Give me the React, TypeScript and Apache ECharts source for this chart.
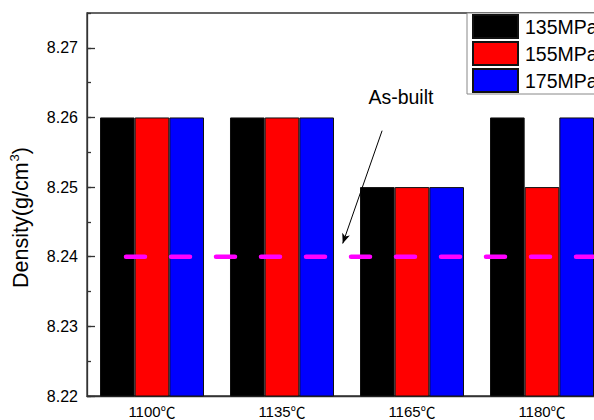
import React, { useEffect, useRef } from "react";
import * as echarts from "echarts";

const categories = ["1100℃", "1135℃", "1165℃", "1180℃"];
const seriesNames = ["135MPa", "155MPa", "175MPa"];
const values135 = [8.26, 8.26, 8.25, 8.26];
const values155 = [8.26, 8.26, 8.25, 8.25];
const values175 = [8.26, 8.26, 8.25, 8.26];
const asBuiltDensity = 8.24;
const yMin = 8.22;
const yMax = 8.275;

export default function App() {
  const ref = useRef<HTMLDivElement>(null);
  useEffect(() => {
    if (!ref.current) return;
    const chart = echarts.init(ref.current, null, { renderer: "svg" });
    const font = "Arial, 'Liberation Sans', sans-serif";
    const cjk = "'Noto Sans CJK SC', sans-serif";
    const colors = ["#000000", "#ff0000", "#0000ff"];
    const barData = [values135, values155, values175];
    const bars = seriesNames.map((name, i) => ({
      name,
      type: "bar",
      xAxisIndex: 0,
      yAxisIndex: 0,
      data: barData[i],
      barGap: "0%",
      barCategoryGap: "20%",
      itemStyle: { color: colors[i], borderColor: "#111", borderWidth: 1 },
      z: 2,
    }));
    chart.setOption({
      animation: false,
      backgroundColor: "#ffffff",
      grid: {
        left: 87,
        top: 13,
        bottom: 24,
        width: 520,
        outerBoundsMode: "none",
        containLabel: false,
        show: true,
        borderColor: "#333",
        borderWidth: 1.3,
        backgroundColor: "transparent",
      },
      legend: {
        orient: "vertical",
        left: 467,
        top: 13,
        padding: [1, 6, 1, 5],
        itemGap: 2,
        itemWidth: 45,
        itemHeight: 23,
        icon: "rect",
        backgroundColor: "#ffffff",
        borderColor: "#888",
        borderWidth: 1,
        data: seriesNames,
        textStyle: { fontSize: 19.5, color: "#000", fontFamily: font, padding: [0, 0, 0, 2] },
      },
      xAxis: [
        {
          type: "category",
          data: categories,
          position: "bottom",
          axisLine: { lineStyle: { color: "#333", width: 1.3 } },
          axisTick: { show: false },
          axisLabel: {
            margin: 8,
            lineHeight: 15,
            formatter: (v: string) => `{d|${v.replace("℃", "")}}{c|℃}`,
            rich: {
              d: { fontSize: 15, color: "#000", fontFamily: font, lineHeight: 15 },
              c: { fontSize: 15, color: "#000", fontFamily: cjk, lineHeight: 15 },
            },
          },
        },
        { type: "value", min: 0, max: 4, show: false, position: "bottom" },
      ],
      yAxis: [
        {
          type: "value",
          min: yMin,
          max: yMax,
          interval: 0.01,
          position: "left",
          name: "{a|Density(g/cm}{s|3}{a|)}",
          nameLocation: "middle",
          nameGap: 53,
          nameRotate: 90,
          nameTextStyle: {
            padding: [0, 26, 0, 0],
            rich: {
              a: { fontSize: 21.5, color: "#000", fontFamily: font, lineHeight: 26 },
              s: { fontSize: 13, color: "#000", fontFamily: font, verticalAlign: "top", lineHeight: 26, padding: [0, 0, 10, 1] },
            },
          },
          axisLine: { show: true, lineStyle: { color: "#333", width: 1.3 } },
          axisTick: { show: true, inside: true, length: 8, lineStyle: { color: "#333", width: 1.3 } },
          axisLabel: {
            fontSize: 16,
            color: "#000",
            fontFamily: font,
            margin: 9,
            showMaxLabel: false,
            formatter: (v: number) => v.toFixed(2),
          },
          splitLine: { show: false },
        },
        {
          type: "value",
          min: yMin,
          max: yMax,
          interval: 0.005,
          position: "left",
          axisLine: { show: false },
          axisTick: { show: true, inside: true, length: 4, lineStyle: { color: "#333", width: 1.3 } },
          axisLabel: { show: false },
          splitLine: { show: false },
        },
      ],
      series: [
        ...bars,
        {
          name: "As-built",
          type: "line",
          xAxisIndex: 1,
          yAxisIndex: 0,
          data: [
            [0.3, asBuiltDensity],
            [4, asBuiltDensity],
          ],
          symbol: "none",
          lineStyle: { color: "#ff00ff", width: 4.5, type: [19, 26], cap: "round" },
          z: 5,
          silent: true,
          markLine: {
            silent: true,
            symbol: ["none", "arrow"],
            symbolSize: [6, 10],
            label: { show: false },
            lineStyle: { color: "#000", width: 1, type: "solid" },
            data: [
              [
                { coord: [2.27, 8.2581] },
                { coord: [1.967, 8.2419] },
              ],
            ],
          },
          markPoint: {
            silent: true,
            symbol: "circle",
            symbolSize: 0,
            label: {
              show: true,
              formatter: "As-built",
              fontSize: 19.5,
              color: "#000",
              fontFamily: font,
              position: "inside",
            },
            data: [{ coord: [2.415, 8.263] }],
          },
        },
      ],
    });
    return () => chart.dispose();
  }, []);
  return (
    <div
      ref={ref}
      style={{ position: "absolute", left: 0, top: 0, width: 594, height: 420 }}
    />
  );
}
